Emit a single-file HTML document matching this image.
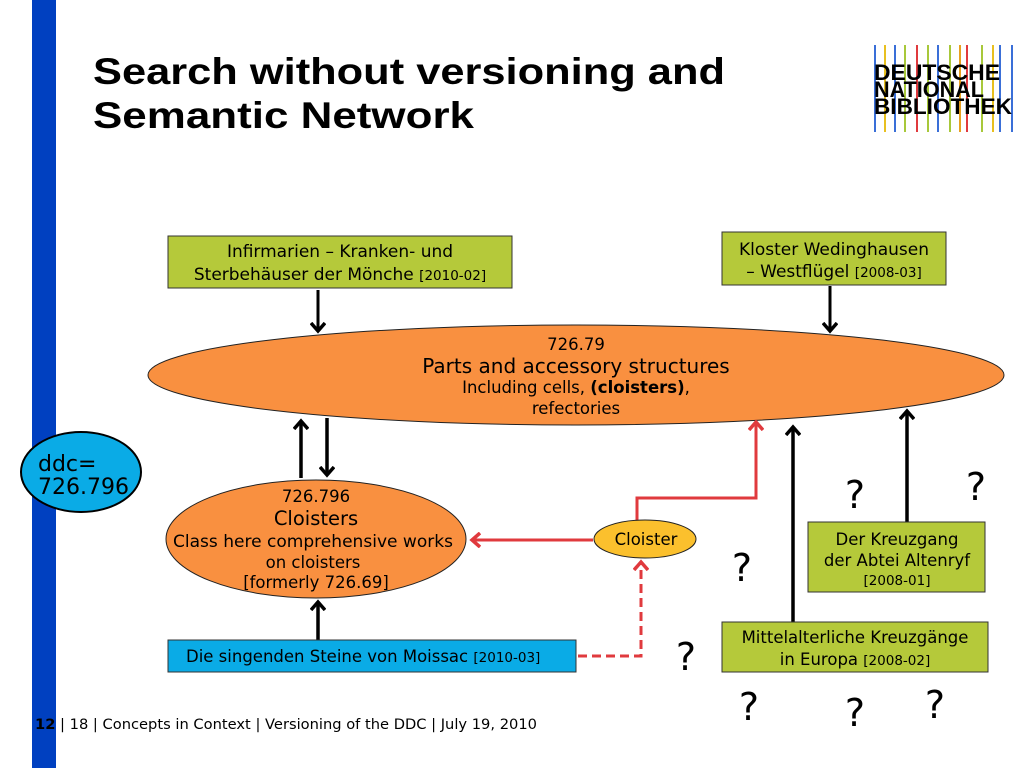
<!DOCTYPE html>
<html><head><meta charset="utf-8"><style>
body{margin:0;background:#fff;}
svg{display:block;font-family:"DejaVu Sans","Liberation Sans",sans-serif;}
</style></head><body>
<svg width="1024" height="768" viewBox="0 0 1024 768" xmlns="http://www.w3.org/2000/svg">
<defs>
<marker id="ab" markerWidth="16" markerHeight="16" refX="8" refY="8" orient="auto" markerUnits="userSpaceOnUse"><path d="M1,1 L9,8 L1,15" fill="none" stroke="#000" stroke-width="3.5"/></marker>
<marker id="ar" markerWidth="16" markerHeight="16" refX="8" refY="8" orient="auto" markerUnits="userSpaceOnUse"><path d="M1,1 L9,8 L1,15" fill="none" stroke="#e03a3e" stroke-width="3.5"/></marker>
</defs>
<rect x="32" y="0" width="24" height="768" fill="#0040c0"/>
<g font-family="Liberation Sans,sans-serif" font-weight="bold" font-size="37">
<text x="93" y="84" textLength="632" lengthAdjust="spacingAndGlyphs">Search without versioning and</text>
<text x="93" y="128" textLength="381" lengthAdjust="spacingAndGlyphs">Semantic Network</text>
</g>
<!-- logo -->
<g stroke-width="2">
<line x1="875" y1="45" x2="875" y2="132" stroke="#3a6fd8"/><line x1="885" y1="45" x2="885" y2="132" stroke="#e8c020"/>
<line x1="895" y1="45" x2="895" y2="132" stroke="#3a6fd8"/><line x1="905" y1="45" x2="905" y2="132" stroke="#a8c83a"/>
<line x1="917" y1="45" x2="917" y2="132" stroke="#e03a3e"/><line x1="928" y1="45" x2="928" y2="132" stroke="#a8c83a"/>
<line x1="938" y1="45" x2="938" y2="132" stroke="#3a6fd8"/><line x1="950" y1="45" x2="950" y2="132" stroke="#a8c83a"/>
<line x1="960" y1="45" x2="960" y2="132" stroke="#e8a020"/><line x1="967" y1="45" x2="967" y2="132" stroke="#e03a3e"/>
<line x1="982" y1="45" x2="982" y2="132" stroke="#a8c83a"/><line x1="993" y1="45" x2="993" y2="132" stroke="#e8c020"/>
<line x1="1000" y1="45" x2="1000" y2="132" stroke="#3a6fd8"/><line x1="1012" y1="45" x2="1012" y2="132" stroke="#3a6fd8"/>
</g>
<g font-family="Liberation Sans,sans-serif" font-weight="bold" font-size="22">
<text x="874" y="80" textLength="126" lengthAdjust="spacingAndGlyphs">DEUTSCHE</text>
<text x="874" y="97" textLength="110" lengthAdjust="spacingAndGlyphs">NATIONAL</text>
<text x="874" y="114" textLength="138" lengthAdjust="spacingAndGlyphs">BIBLIOTHEK</text>
</g>
<rect x="168" y="236" width="344" height="52" fill="#b5c93a" stroke="#333"/>
<text x="340" y="257" font-size="17" text-anchor="middle">Infirmarien – Kranken- und</text>
<text x="340" y="280" font-size="17" text-anchor="middle">Sterbehäuser der Mönche <tspan font-size="13.5">[2010-02]</tspan></text>
<rect x="722" y="232" width="224" height="53" fill="#b5c93a" stroke="#333"/>
<text x="834" y="255" font-size="17" text-anchor="middle">Kloster Wedinghausen</text>
<text x="834" y="277" font-size="17" text-anchor="middle">– Westflügel <tspan font-size="13.5">[2008-03]</tspan></text>
<g stroke="#000" stroke-width="3" fill="none">
<line x1="318" y1="290" x2="318" y2="330" marker-end="url(#ab)"/>
<line x1="830" y1="286" x2="830" y2="330" marker-end="url(#ab)"/>
</g>
<ellipse cx="576" cy="375" rx="428" ry="50" fill="#f99040" stroke="#222"/>
<text x="576" y="350" font-size="16.5" text-anchor="middle">726.79</text>
<text x="576" y="373" font-size="20" text-anchor="middle">Parts and accessory structures</text>
<text x="576" y="393" font-size="16.5" text-anchor="middle">Including cells, <tspan font-weight="bold">(cloisters)</tspan>,</text>
<text x="576" y="414" font-size="16.5" text-anchor="middle">refectories</text>
<ellipse cx="81" cy="472" rx="60" ry="40" fill="#0aabe6" stroke="#000" stroke-width="2"/>
<text x="38" y="471" font-size="22">ddc=</text>
<text x="38" y="494" font-size="22">726.796</text>
<g stroke="#000" stroke-width="3.5" fill="none">
<line x1="301" y1="478" x2="301" y2="422" marker-end="url(#ab)"/>
<line x1="327" y1="418" x2="327" y2="474" marker-end="url(#ab)"/>
<line x1="318" y1="640" x2="318" y2="603" marker-end="url(#ab)"/>
<line x1="793" y1="622" x2="793" y2="428" marker-end="url(#ab)"/>
<line x1="907" y1="522" x2="907" y2="412" marker-end="url(#ab)"/>
</g>
<ellipse cx="316" cy="539" rx="150" ry="59" fill="#f99040" stroke="#222"/>
<text x="316" y="502" font-size="16.5" text-anchor="middle">726.796</text>
<text x="316" y="525" font-size="19.5" text-anchor="middle">Cloisters</text>
<text x="313" y="547" font-size="16.5" text-anchor="middle" textLength="280" lengthAdjust="spacingAndGlyphs">Class here comprehensive works</text>
<text x="313" y="568" font-size="16.5" text-anchor="middle">on cloisters</text>
<text x="316" y="588" font-size="16.5" text-anchor="middle">[formerly 726.69]</text>
<rect x="168" y="640" width="408" height="32" fill="#0aabe6" stroke="#333"/>
<text x="186" y="662" font-size="16.5">Die singenden Steine von Moissac <tspan font-size="13.5">[2010-03]</tspan></text>
<g stroke="#e03a3e" stroke-width="3" fill="none">
<line x1="593" y1="540" x2="473" y2="540" marker-end="url(#ar)"/>
<polyline points="637,522 637,498 756,498 756,423" marker-end="url(#ar)"/>
<polyline points="578,656 641,656 641,563" stroke-dasharray="9,5" marker-end="url(#ar)"/>
</g>
<ellipse cx="645" cy="539" rx="51" ry="19" fill="#fbc02d" stroke="#222"/>
<text x="646" y="545" font-size="16.5" text-anchor="middle">Cloister</text>
<rect x="808" y="522" width="177" height="70" fill="#b5c93a" stroke="#333"/>
<text x="897" y="545" font-size="16.5" text-anchor="middle">Der Kreuzgang</text>
<text x="897" y="566" font-size="16.5" text-anchor="middle">der Abtei Altenryf</text>
<text x="897" y="585" font-size="13.5" text-anchor="middle">[2008-01]</text>
<rect x="722" y="622" width="266" height="50" fill="#b5c93a" stroke="#333"/>
<text x="855" y="643" font-size="16.5" text-anchor="middle">Mittelalterliche Kreuzgänge</text>
<text x="855" y="665" font-size="16.5" text-anchor="middle">in Europa <tspan font-size="13.5">[2008-02]</tspan></text>
<g font-size="38" text-anchor="middle">
<text x="855" y="508">?</text><text x="976" y="500">?</text>
<text x="742" y="581">?</text><text x="686" y="670">?</text>
<text x="749" y="720">?</text><text x="855" y="726">?</text><text x="935" y="718">?</text>
</g>
<text x="35" y="729" font-size="14" textLength="502" lengthAdjust="spacingAndGlyphs"><tspan font-weight="bold">12</tspan> | 18 | Concepts in Context | Versioning of the DDC | July 19, 2010</text>
</svg>
</body></html>
